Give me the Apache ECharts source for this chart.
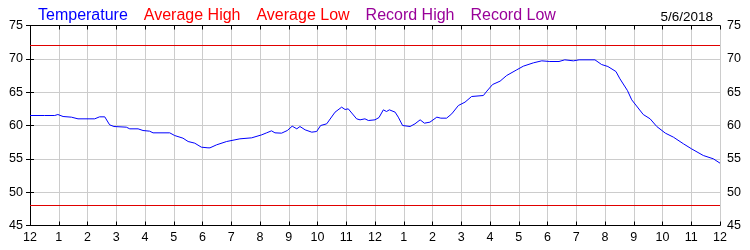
<!DOCTYPE html>
<html>
<head>
<meta charset="utf-8">
<script src="https://cdn.jsdelivr.net/npm/echarts@6/dist/echarts.min.js"></script>
<style>
html,body{margin:0;padding:0;background:#fff;}
#c{width:750px;height:250px;}
</style>
</head>
<body>
<div id="c"></div>
<script>
var hourTickLabels = ['12','1','2','3','4','5','6','7','8','9','10','11','12','1','2','3','4','5','6','7','8','9','10','11','12'];
var legendNames = ['Temperature','Average High','Average Low','Record High','Record Low'];
var legendColors = ['#0000ff','#ff0000','#ff0000','#990099','#990099'];
var dateLabel = '5/6/2018';
var avgHigh = 72;
var avgLow = 48;
var hours = [0.00,0.50,0.86,0.97,1.15,1.44,1.67,2.25,2.42,2.60,2.77,2.92,3.35,3.47,3.76,3.93,4.16,4.28,4.86,5.03,5.32,5.50,5.73,5.96,6.19,6.26,6.49,6.84,7.30,7.71,8.06,8.23,8.40,8.52,8.75,8.95,9.12,9.28,9.39,9.57,9.80,9.97,10.11,10.32,10.61,10.84,10.96,11.07,11.36,11.48,11.65,11.77,12.00,12.14,12.29,12.40,12.50,12.70,12.81,12.96,13.22,13.39,13.57,13.72,13.91,14.15,14.29,14.49,14.67,14.90,15.13,15.36,15.77,15.89,16.09,16.35,16.58,16.93,17.16,17.51,17.80,18.08,18.40,18.60,18.90,19.10,19.65,19.88,20.10,20.38,20.52,20.78,20.93,21.33,21.57,21.80,22.10,22.38,22.73,23.01,23.42,23.77,24.00];
var temps = [61.5,61.5,61.5,61.65,61.35,61.25,61.0,61.0,61.3,61.3,60.1,59.85,59.75,59.5,59.5,59.25,59.15,58.9,58.9,58.5,58.1,57.6,57.35,56.75,56.65,56.65,57.1,57.6,58.0,58.15,58.6,58.9,59.2,58.9,58.85,59.25,59.9,59.5,59.85,59.35,59.0,59.1,60.0,60.25,62.0,62.75,62.4,62.5,61.0,60.85,61.0,60.75,60.85,61.2,62.35,62.1,62.35,62.0,61.25,60.0,59.85,60.25,60.85,60.35,60.5,61.25,61.1,61.1,61.75,63.0,63.5,64.35,64.5,65.15,66.15,66.65,67.5,68.35,68.9,69.4,69.7,69.6,69.6,69.85,69.7,69.85,69.85,69.15,68.85,68.1,67.0,65.25,63.85,61.65,61.0,59.85,58.85,58.25,57.25,56.5,55.5,55.0,54.35];

var tempData = hours.map(function(h,i){return [h,temps[i]];});
var chart = echarts.init(document.getElementById('c'));
var FONT = 'Liberation Sans, Arial, sans-serif';
var yAxisCommon = {
  type:'value', min:45, max:75, interval:5,
  axisLine:{show:true,lineStyle:{color:'#000',width:1}},
  axisTick:{show:true,inside:true,length:4,lineStyle:{color:'#000'}},
  axisLabel:{color:'#000',fontFamily:FONT,fontSize:12.5,margin:7},
  splitLine:{show:true,lineStyle:{color:'#cccccc',width:1}}
};
chart.setOption({
  animation:false,
  backgroundColor:'#fff',
  title:{text:dateLabel,right:32,top:5,textStyle:{color:'#000',fontFamily:FONT,fontSize:13.5,fontWeight:'normal'}},
  legend:{
    left:28, top:3, icon:'none', itemWidth:0, itemHeight:0, itemGap:11,
    selectedMode:false,
    data: legendNames.map(function(n,i){return {name:n,textStyle:{color:legendColors[i]}};}),
    textStyle:{fontFamily:FONT,fontSize:16}
  },
  grid:{left:30,right:30,top:25.5,bottom:24.5,containLabel:false},
  xAxis:[{
    type:'value', min:0, max:24, interval:1, position:'bottom',
    axisLine:{show:true,lineStyle:{color:'#000',width:1}},
    axisTick:{show:true,inside:true,length:4,lineStyle:{color:'#000'}},
    axisLabel:{color:'#000',fontFamily:FONT,fontSize:12.5,margin:6,
      formatter:function(v){return hourTickLabels[Math.round(v)];}},
    splitLine:{show:true,lineStyle:{color:'#cccccc',width:1}}
  },{
    type:'value', min:0, max:24, interval:1, position:'top',
    axisLine:{show:true,lineStyle:{color:'#000',width:1}},
    axisTick:{show:true,inside:true,length:4,lineStyle:{color:'#000'}},
    axisLabel:{show:false}, splitLine:{show:false}
  }],
  yAxis:[
    Object.assign({},yAxisCommon,{position:'left'}),
    Object.assign({},yAxisCommon,{position:'right',splitLine:{show:false}})
  ],
  series:[
    {name:legendNames[0],type:'line',data:tempData,showSymbol:false,symbol:'none',
     lineStyle:{color:legendColors[0],width:1},itemStyle:{color:legendColors[0]},z:5},
    {name:legendNames[1],type:'line',data:[[0,avgHigh],[24,avgHigh]],symbol:'none',
     lineStyle:{color:'#e00000',width:1},itemStyle:{color:legendColors[1]}},
    {name:legendNames[2],type:'line',data:[[0,avgLow],[24,avgLow]],symbol:'none',
     lineStyle:{color:'#e00000',width:1},itemStyle:{color:legendColors[2]}},
    {name:legendNames[3],type:'line',data:[],symbol:'none',
     lineStyle:{color:legendColors[3],width:1},itemStyle:{color:legendColors[3]}},
    {name:legendNames[4],type:'line',data:[],symbol:'none',
     lineStyle:{color:legendColors[4],width:1},itemStyle:{color:legendColors[4]}}
  ]
});
</script>
</body>
</html>
